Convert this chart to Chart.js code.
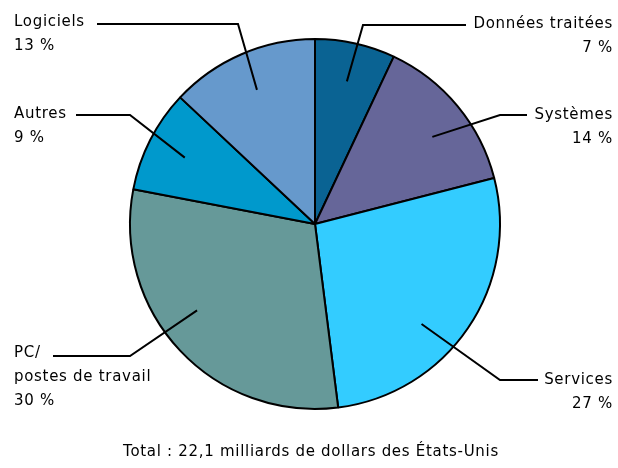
<!DOCTYPE html>
<html lang="fr">
<head>
    <meta charset="UTF-8">
    <title>Répartition</title>
    <script src="https://cdn.jsdelivr.net/npm/chart.js"></script>
    <style>
        html, body { margin: 0; padding: 0; background: #fff; }
        #box { width: 618px; height: 468px; position: relative; }
    </style>
</head>
<body>
    <div id="box">
        <canvas id="graficoPie"></canvas>
    </div>

<script>
    // dados
    const categorias = [['Données traitées'], ['Systèmes'], ['Services'], ['PC/', 'postes de travail'], ['Autres'], ['Logiciels']];
    const partes = [7, 14, 27, 30, 9, 13];
    const total = 'Total : 22,1 milliards de dollars des États-Unis';

    const cores = ['#0a6393', '#666699', '#33ccff', '#669999', '#0099cc', '#6699cc'];

    // posição das etiquetas e dos traços (layout apenas)
    const etiquetas = [
        { lado: 'dir', cotovelo: [363, 25], fim: 466, tx: 613, ty: 24, giro: 0 },
        { lado: 'dir', cotovelo: [500, 115], fim: 527, tx: 613, ty: 115, giro: 3 },
        { lado: 'dir', cotovelo: [500, 380], fim: 538, tx: 613, ty: 380, giro: 9 },
        { lado: 'esq', cotovelo: [130, 356], fim: 53, tx: 14, ty: 353, giro: 7 },
        { lado: 'esq', cotovelo: [130, 115], fim: 76, tx: 14, ty: 114, giro: 0 },
        { lado: 'esq', cotovelo: [238, 24], fim: 97, tx: 14, ty: 22, giro: 0 }
    ];

    const fonte = '15px "DejaVu Sans"';

    const pluginEtiquetas = {
        id: 'etiquetas',
        afterDraw(chart) {
            const ctx = chart.ctx;
            const arcos = chart.getDatasetMeta(0).data;
            ctx.save();
            ctx.strokeStyle = '#000';
            ctx.lineWidth = 2;
            ctx.fillStyle = '#000';
            ctx.font = fonte;
            ctx.letterSpacing = '0.7px';
            ctx.textBaseline = 'middle';

            arcos.forEach((arco, i) => {
                const e = etiquetas[i];
                const meio = (arco.startAngle + arco.endAngle) / 2 + e.giro * Math.PI / 180;
                const r = arco.outerRadius * 0.79;
                const px = arco.x + Math.cos(meio) * r;
                const py = arco.y + Math.sin(meio) * r;

                ctx.beginPath();
                ctx.moveTo(px, py);
                ctx.lineTo(e.cotovelo[0], e.cotovelo[1]);
                ctx.lineTo(e.fim, e.cotovelo[1]);
                ctx.stroke();

                ctx.textAlign = e.lado === 'dir' ? 'right' : 'left';
                const linhas = categorias[i].concat([partes[i] + ' %']);
                linhas.forEach((t, k) => {
                    ctx.fillText(t, e.tx, e.ty + k * 24);
                });
            });

            ctx.textAlign = 'center';
            ctx.fillText(total, 311, 452);
            ctx.restore();
        }
    };

    new Chart(document.getElementById('graficoPie'), {
        type: 'pie',
        data: {
            labels: categorias.map(c => c.join(' ')),
            datasets: [{
                data: partes,
                backgroundColor: cores,
                borderColor: '#000',
                borderWidth: 2
            }]
        },
        options: {
            responsive: true,
            maintainAspectRatio: false,
            animation: false,
            layout: {
                padding: { top: 38, bottom: 58, left: 129, right: 117 }
            },
            plugins: {
                legend: { display: false },
                tooltip: { enabled: false }
            }
        },
        plugins: [pluginEtiquetas]
    });
</script>
</body>
</html>
